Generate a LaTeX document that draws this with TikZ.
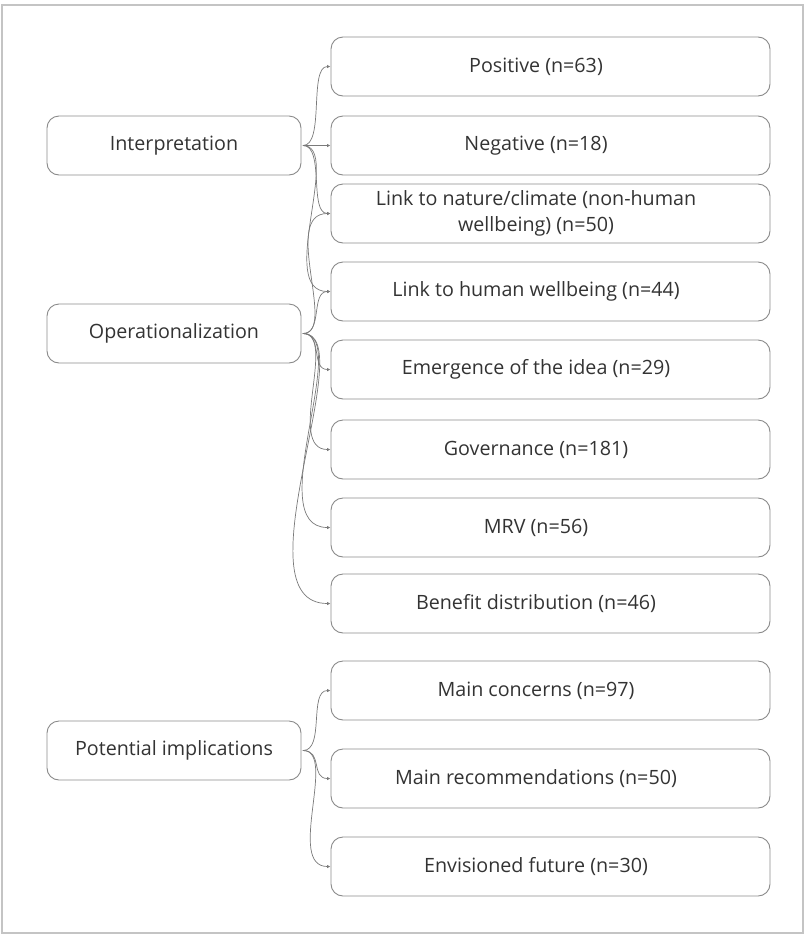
\documentclass[tikz,border=0pt]{standalone}
\usepackage{fontspec}
\setmainfont{Open Sans}
\usetikzlibrary{arrows.meta}
\definecolor{txt}{HTML}{333333}
\definecolor{boxline}{HTML}{8A8A8A}
\definecolor{wire}{HTML}{7A7A7A}
\definecolor{frame}{HTML}{C4C4C4}
\begin{document}
\begin{tikzpicture}[x=1pt,y=-1pt,
  boxfont/.style={text=txt, font=\fontsize{19.7}{26}\selectfont},
  box/.style={draw=boxline, line width=0.9pt, rounded corners=12pt,
    minimum height=59pt, inner sep=0pt, align=center, boxfont},
  catbox/.style={box, minimum width=254pt},
  subbox/.style={box, minimum width=439pt},
  subtext/.style={boxfont, align=center, inner sep=0pt, xshift=-14.5pt},
  conn/.style={draw=wire, line width=0.7pt, -{Latex[length=3.5pt,width=3.5pt]}}]
\useasboundingbox (0,0) rectangle (804,935);
\draw[frame, line width=2pt] (1.5,4.5) rectangle (802.5,933);

% categories
\node[catbox] (interp) at (174,145.5) {Interpretation};
\node[catbox] (oper)   at (174,333.5) {Operationalization};
\node[catbox] (impl)   at (174,750.5) {Potential implications};

% sub-themes (text sits a little left of the box centre)
\node[subbox, label={[subtext]center:Positive (n=63)}]                 (pos)  at (550.5,66.5)  {};
\node[subbox, label={[subtext]center:Negative (n=18)}]                 (neg)  at (550.5,145.5) {};
\node[subbox, label={[subtext]center:{Link to nature/climate (non-human\\wellbeing) (n=50)}}] (nat) at (550.5,213.5) {};
\node[subbox, label={[subtext]center:Link to human wellbeing (n=44)}]  (hum)  at (550.5,291.5) {};
\node[subbox, label={[subtext]center:Emergence of the idea (n=29)}]    (emer) at (550.5,369.5) {};
\node[subbox, label={[subtext]center:Governance (n=181)}]              (gov)  at (550.5,449.5) {};
\node[subbox, label={[subtext]center:MRV (n=56)}]                      (mrv)  at (550.5,527.5) {};
\node[subbox, label={[subtext]center:Benefit distribution (n=46)}]     (ben)  at (550.5,603.5) {};
\node[subbox, label={[subtext]center:Main concerns (n=97)}]            (conc) at (550.5,690.5) {};
\node[subbox, label={[subtext]center:Main recommendations (n=50)}]     (rec)  at (550.5,778.5) {};
\node[subbox, label={[subtext]center:Envisioned future (n=30)}]        (fut)  at (550.5,866.5) {};

% connectors
\draw[conn] ([xshift=1.5pt]interp.east) .. controls +(22,0) and +(-22,0) .. (pos.west);
\draw[conn] ([xshift=1.5pt]interp.east) -- (neg.west);
\draw[conn] ([xshift=1.5pt]interp.east) .. controls +(22,0) and +(-22,0) .. (nat.west);
\draw[conn] ([xshift=1.5pt]interp.east) .. controls +(40,0) and +(-55,0) .. (hum.west);

\draw[conn] ([xshift=1.5pt]oper.east) .. controls +(35,0) and +(-50,0) .. (nat.west);
\draw[conn] ([xshift=1.5pt]oper.east) .. controls +(20,0) and +(-20,0) .. (hum.west);
\draw[conn] ([xshift=1.5pt]oper.east) .. controls +(20,0) and +(-20,0) .. (emer.west);
\draw[conn] ([xshift=1.5pt]oper.east) .. controls +(35,0) and +(-45,0) .. (gov.west);
\draw[conn] ([xshift=1.5pt]oper.east) .. controls +(50,0) and +(-70,0) .. (mrv.west);
\draw[conn] ([xshift=1.5pt]oper.east) .. controls +(60,0) and +(-95,0) .. (ben.west);

\draw[conn] ([xshift=1.5pt]impl.east) .. controls +(22,0) and +(-22,0) .. (conc.west);
\draw[conn] ([xshift=1.5pt]impl.east) .. controls +(20,0) and +(-20,0) .. (rec.west);
\draw[conn] ([xshift=1.5pt]impl.east) .. controls +(35,0) and +(-45,0) .. (fut.west);
\end{tikzpicture}
\end{document}
